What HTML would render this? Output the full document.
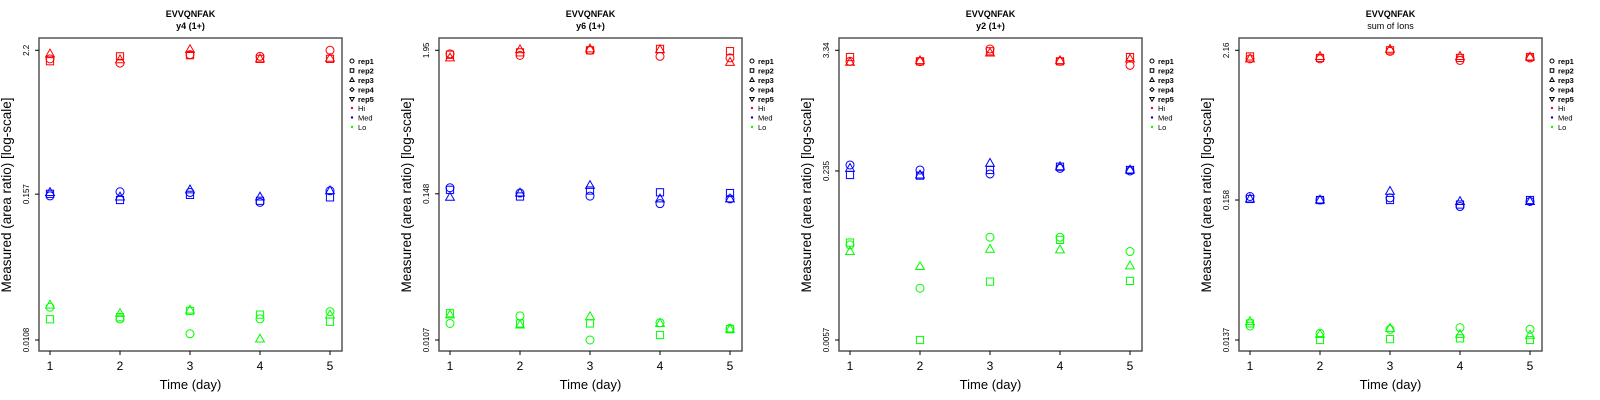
<!DOCTYPE html>
<html><head><meta charset="utf-8"><style>
body{margin:0;background:#fff;}
svg{display:block;font-family:"Liberation Sans",sans-serif;}
</style></head><body>
<svg id="chart" width="1600" height="400" xmlns="http://www.w3.org/2000/svg"></svg>
<script>
// ---- data ----
const days = [1,2,3,4,5];
const titles = ["y4 (1+)","y6 (1+)","y2 (1+)","sum of Ions"];
const peptide = "EVVQNFAK";
const tickVals = [[0.0108,0.157,2.2],[0.0107,0.148,1.95],[0.0057,0.235,3.34],[0.0137,0.158,2.16]];
const repNames = ["rep1","rep2","rep3","rep4","rep5"];
const levelNames = ["Hi","Med","Lo"];
// each: [rep1 (circle), rep2 (square), rep3 (triangle)] x days
const y4Hi = [[1.88,1.74,2.03,1.97,2.2],[1.80,1.97,2.01,1.88,1.88],[2.06,1.85,2.23,1.88,1.90]];
const y4Med = [[0.152,0.164,0.162,0.135,0.167],[0.158,0.141,0.155,0.139,0.148],[0.162,0.149,0.170,0.149,0.167]];
const y4Lo = [[0.0197,0.0159,0.0121,0.0159,0.0182],[0.0158,0.0164,0.0184,0.0172,0.0151],[0.0205,0.0176,0.0187,0.0110,0.0171]];
const y6Hi = [[1.83,1.78,1.95,1.75,1.70],[1.80,1.88,1.95,2.0,1.92],[1.70,1.97,2.0,1.97,1.57]];
const y6Med = [[0.165,0.150,0.142,0.124,0.135],[0.159,0.141,0.157,0.152,0.150],[0.139,0.150,0.172,0.135,0.135]];
const y6Lo = [[0.0144,0.0165,0.0107,0.0146,0.0132],[0.0173,0.0144,0.0144,0.0117,0.0130],[0.0168,0.0140,0.0163,0.0144,0.0130]];
const y2Hi = [[2.62,2.60,3.44,2.62,2.40],[2.88,2.62,3.27,2.62,2.88],[2.57,2.66,3.15,2.66,2.76]];
const y2Med = [[0.268,0.240,0.220,0.249,0.235],[0.215,0.212,0.240,0.258,0.240],[0.249,0.215,0.278,0.258,0.240]];
const y2Lo = [[0.0462,0.0178,0.0547,0.0547,0.0399],[0.0486,0.0057,0.0206,0.0516,0.0209],[0.0399,0.0287,0.0420,0.0414,0.0291]];
const sumHi = [[1.86,1.86,2.12,1.81,1.89],[1.94,1.89,2.16,1.89,1.92],[1.86,1.94,2.2,1.94,1.92]];
const sumMed = [[0.168,0.158,0.164,0.141,0.154],[0.161,0.158,0.158,0.146,0.158],[0.161,0.158,0.184,0.154,0.154]];
const sumLo = [[0.0175,0.0154,0.0165,0.0170,0.0165],[0.0183,0.0137,0.0139,0.0141,0.0137],[0.0189,0.0151,0.0168,0.0151,0.0149]];
const panelData = [[y4Hi,y4Med,y4Lo],[y6Hi,y6Med,y6Lo],[y2Hi,y2Med,y2Lo],[sumHi,sumMed,sumLo]];
const levelColors = ["#ff0000","#0000ff","#00ff00"];

// ---- drawing ----
const NS="http://www.w3.org/2000/svg";
const svg=document.getElementById('chart');
function mk(tag,attrs,parent){const e=document.createElementNS(NS,tag);for(const k in attrs)e.setAttribute(k,attrs[k]);(parent||svg).appendChild(e);return e;}
function marker(g,shape,x,y,r,color,sw){
  if(shape===0) return mk('circle',{cx:x,cy:y,r:r,fill:'none',stroke:color,'stroke-width':sw},g);
  if(shape===1) return mk('rect',{x:x-r*0.9,y:y-r*0.9,width:r*1.8,height:r*1.8,fill:'none',stroke:color,'stroke-width':sw},g);
  if(shape===2) return mk('polygon',{points:`${x},${y-r*1.2} ${x-r*1.1},${y+r*0.75} ${x+r*1.1},${y+r*0.75}`,fill:'none',stroke:color,'stroke-width':sw},g);
  if(shape===3) return mk('polygon',{points:`${x},${y-r} ${x+r},${y} ${x},${y+r} ${x-r},${y}`,fill:'none',stroke:color,'stroke-width':sw},g);
  return mk('polygon',{points:`${x},${y+r*1.2} ${x-r*1.1},${y-r*0.75} ${x+r*1.1},${y-r*0.75}`,fill:'none',stroke:color,'stroke-width':sw},g);
}
for(let p=0;p<4;p++){
  const ox=p*400;
  const g=mk('g',{transform:`translate(${ox},0)`});
  
  
  const t=tickVals[p];
  const lo=Math.log10(t[0]), hi=Math.log10(t[2]);
  const yS=v=>340-(Math.log10(v)-lo)/(hi-lo)*289.7;
  const xS=d=>50+(d-1)*70;
  let e;
  e=mk('text',{x:190.5,y:17,'text-anchor':'middle','font-size':9,'font-weight':'bold'},g);e.textContent=peptide;
  
  
  e=mk('text',{x:190.5,y:29,'text-anchor':'middle','font-size':9,'font-weight':p===3?'normal':'bold'},g);e.textContent=titles[p];
  
  
  e=mk('rect',{x:39,y:38,width:303,height:313,fill:'none',stroke:'#555','stroke-width':1.5},g);
  
  
  // y ticks
  t.forEach(v=>{
    const y=yS(v);
    mk('line',{x1:35,x2:39,y1:y,y2:y,stroke:'#000','stroke-width':1},g);
    const tx=mk('text',{x:0,y:0,'text-anchor':'middle','font-size':8,transform:`translate(29,${y}) rotate(-90)`},g);
    tx.textContent=String(v);
    
    
  });
  days.forEach(d=>{
    const x=xS(d);
    mk('line',{x1:x,x2:x,y1:351,y2:355,stroke:'#000','stroke-width':1},g);
    const tx=mk('text',{x:x,y:370,'text-anchor':'middle','font-size':12},g);
    tx.textContent=d;
    
    
  });
  e=mk('text',{x:190.5,y:389,'text-anchor':'middle','font-size':13},g);e.textContent='Time (day)';
  
  
  e=mk('text',{x:0,y:0,'text-anchor':'middle','font-size':13.5,transform:'translate(11,195) rotate(-90)'},g);e.textContent='Measured (area ratio) [log-scale]';
  
  
  // points
  panelData[p].forEach((lvl,li)=>{
    lvl.forEach((rep,ri)=>{
      rep.forEach((v,di)=>{
        const m=marker(g,ri,xS(days[di]),yS(v),4,levelColors[li],1);
        
        
      });
    });
  });
  // legend
  const lg=mk('g',{},g);
  
  
  repNames.forEach((n,i)=>{
    const y=61+i*9.5;
    marker(lg,i,352,y,2,'#000',1);
    const tx=mk('text',{x:358,y:y+3,'font-size':7.5,'font-weight':'bold'},lg);tx.textContent=n;
    
    
  });
  levelNames.forEach((n,i)=>{
    const y=108+i*9.5;
    mk('circle',{cx:352,cy:y,r:1.2,fill:levelColors[i]},lg);
    const tx=mk('text',{x:358,y:y+3,'font-size':7.5},lg);tx.textContent=n;
    
    
  });
}
</script>
</body></html>
